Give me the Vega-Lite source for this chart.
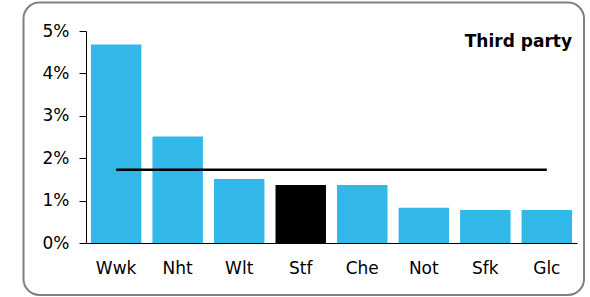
{
  "$schema": "https://vega.github.io/schema/vega-lite/v6.json",
  "width": 491,
  "height": 212,
  "autosize": {"type": "none"},
  "padding": {"left": 86, "top": 31, "right": 13, "bottom": 54},
  "background": "white",
  "title": {
    "text": "Third party",
    "anchor": "end",
    "frame": "group",
    "font": "DejaVu Sans",
    "fontSize": 17,
    "fontWeight": "bold",
    "color": "#000000",
    "baseline": "alphabetic",
    "offset": 0,
    "dx": -5,
    "dy": 62
  },
  "data": {
    "values": [
      {"region": "Wwk", "share": 0.0468, "group": "other", "average": 0.0173},
      {"region": "Nht", "share": 0.0251, "group": "other", "average": 0.0173},
      {"region": "Wlt", "share": 0.0151, "group": "other", "average": 0.0173},
      {"region": "Stf", "share": 0.0137, "group": "highlight", "average": 0.0173},
      {"region": "Che", "share": 0.0137, "group": "other", "average": 0.0173},
      {"region": "Not", "share": 0.0083, "group": "other", "average": 0.0173},
      {"region": "Sfk", "share": 0.0078, "group": "other", "average": 0.0173},
      {"region": "Glc", "share": 0.0078, "group": "other", "average": 0.0173}
    ]
  },
  "layer": [
    {
      "data": {"values": [{}]},
      "mark": {"type": "rect", "fill": null, "filled": false, "stroke": "#808080", "strokeWidth": 2, "cornerRadius": 16, "clip": false, "x2Offset": 7, "y2Offset": 52},
      "encoding": {
        "x": {"value": -62.5},
        "x2": {"value": "width"},
        "y": {"value": -28.5},
        "y2": {"value": "height"}
      }
    },
    {
      "mark": {"type": "bar"},
      "encoding": {
        "x": {
          "field": "region",
          "type": "nominal",
          "sort": null,
          "scale": {"paddingInner": 0.18, "paddingOuter": 0.08},
          "axis": {"title": null, "labelAngle": 0, "ticks": false, "labelPadding": 17}
        },
        "y": {
          "field": "share",
          "type": "quantitative",
          "scale": {"domain": [0, 0.05], "nice": false},
          "axis": {"title": null, "format": ".0%", "values": [0, 0.01, 0.02, 0.03, 0.04, 0.05], "tickSize": 7, "labelPadding": 10, "grid": false}
        },
        "color": {
          "field": "group",
          "type": "nominal",
          "scale": {"domain": ["other", "highlight"], "range": ["#32B8E8", "#000000"]},
          "legend": null
        }
      }
    },
    {
      "mark": {"type": "line", "color": "#000000", "strokeWidth": 2.5},
      "encoding": {
        "x": {"field": "region", "type": "nominal", "sort": null},
        "y": {"field": "average", "type": "quantitative"}
      }
    }
  ],
  "config": {
    "view": {"stroke": null},
    "axis": {
      "labelFont": "DejaVu Sans",
      "labelFontSize": 17,
      "labelColor": "#000000",
      "domainColor": "#000000",
      "domainWidth": 1,
      "tickColor": "#000000",
      "grid": false
    }
  }
}
